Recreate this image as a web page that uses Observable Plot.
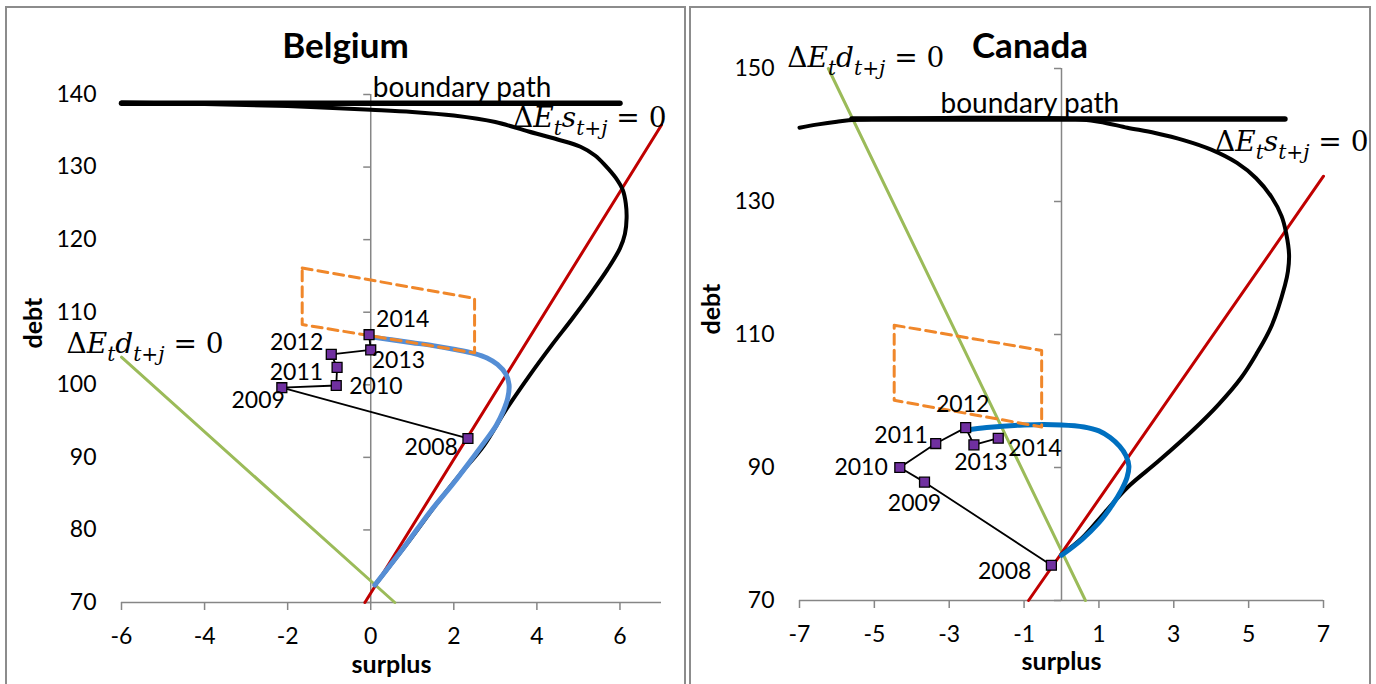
<!DOCTYPE html>
<html><head><meta charset="utf-8">
<script src="https://cdn.jsdelivr.net/npm/d3@7"></script>
<script src="https://cdn.jsdelivr.net/npm/@observablehq/plot@0.6"></script>
<style>
html,body{margin:0;padding:0;background:#fff;width:1376px;height:684px;overflow:hidden;}
.frame{position:absolute;top:6px;height:720px;border:2px solid #8c8c8c;border-bottom:none;box-sizing:border-box;}
.chart{position:absolute;top:0;width:688px;height:684px;}
.chart svg{background:transparent;max-width:none;}
.title{position:absolute;top:27px;font:bold 35px Lato, sans-serif;line-height:35px;text-align:center;color:#000;}
</style></head><body>
<div class="frame" style="left:5px;width:681px"></div>
<div class="frame" style="left:689px;width:682px"></div>
<div id="bel" class="chart" style="left:0"></div>
<div id="can" class="chart" style="left:688px"></div>
<div class="title" style="left:5px;width:681px">Belgium</div>
<div class="title" style="left:689px;width:682px">Canada</div>
<script>
// ---------- data ----------
const years = [2008, 2009, 2010, 2011, 2012, 2013, 2014];

// Belgium
const belXTicks = [-6, -4, -2, 0, 2, 4, 6];
const belYTicks = [70, 80, 90, 100, 110, 120, 130, 140];
const belSurplus = [2.34, -2.14, -0.83, -0.81, -0.95, 0.0, -0.04];
const belDebt = [92.6, 99.6, 99.9, 102.4, 104.2, 104.8, 106.9];
const belBoundaryX = [-6, 6];
const belBoundaryY = [138.8, 138.8];
const belBlackX = [-6, -4, -2, 0, 1, 2, 3, 3.8, 4.5, 5.05, 5.4, 5.65, 5.9, 6.07, 6.14, 6.16, 6.12, 6.0, 5.7, 5.3, 4.85, 4.35, 3.8, 3.25, 2.72, 2.2, 1.6, 0.9, 0.1];
const belBlackY = [138.9, 138.7, 138.4, 137.9, 137.6, 137.1, 136.2, 134.9, 133.8, 132.8, 131.6, 130.2, 128.5, 126.8, 125, 123, 120.8, 118.8, 115.9, 112.6, 109.1, 105.4, 101.1, 96.5, 91.6, 88.0, 83.7, 78.3, 72.4];
const belBlueX = [0, 0.5, 1, 1.5, 2, 2.5, 2.8, 3.05, 3.25, 3.33, 3.3, 3.2, 3.02, 2.75, 2.49, 2.0, 1.43, 0.8, 0.1];
const belBlueY = [106.6, 106.2, 105.8, 105.4, 104.9, 104.3, 103.7, 102.8, 101.5, 100, 98.2, 96.5, 94.4, 92.2, 90.2, 86.5, 82.5, 77.6, 72.4];
const belRedX = [-0.14, 7];
const belRedY = [70, 135.8];
const belGreenX = [-6, 0.58];
const belGreenY = [103.8, 70];
const belBoxX = [-1.65, 2.5, 2.5, -1.65, -1.65];
const belBoxY = [116.1, 111.9, 104.4, 108.3, 116.1];

// Canada
const canXTicks = [-7, -5, -3, -1, 1, 3, 5, 7];
const canYTicks = [70, 90, 110, 130, 150];
const canSurplus = [-0.27, -3.66, -4.32, -3.36, -2.56, -2.34, -1.69];
const canDebt = [75.3, 87.8, 90.0, 93.6, 96.0, 93.4, 94.4];
const canBoundaryX = [-5.6, 5.97];
const canBoundaryY = [142.4, 142.4];
const canBlackX = [-7, -6.5, -6, -5.5, -4, -2, 0, 1, 1.76, 2.5, 3.28, 4.0, 4.69, 5.2, 5.62, 5.88, 6.0, 6.08, 6.05, 5.97, 5.62, 5.2, 4.8, 4.2, 3.51, 2.6, 1.76, 1.15, 0.55, 0];
const canBlackY = [141.1, 141.6, 142.0, 142.3, 142.5, 142.6, 142.5, 142.0, 141.1, 140.3, 139.2, 137.8, 135.8, 133.5, 130.6, 127.8, 125.3, 122, 119.5, 117.4, 111.4, 107, 103.5, 99.5, 95.6, 91, 87, 83.2, 79.4, 76.9];
const canBlueX = [-2.55, -2, -1, 0, 0.6, 1.0, 1.3, 1.55, 1.72, 1.8, 1.75, 1.6, 1.35, 1.0, 0.55, 0];
const canBlueY = [95.6, 96.0, 96.4, 96.4, 96.1, 95.5, 94.5, 93.2, 91.8, 90.2, 88.5, 86.6, 84.3, 81.7, 79.2, 76.8];
const canRedX = [-0.88, 7];
const canRedY = [70, 133.8];
const canGreenX = [-6.23, 0.64];
const canGreenY = [150, 70];
const canBoxX = [-4.47, -0.53, -0.53, -4.47, -4.47];
const canBoxY = [111.4, 107.6, 96.1, 100.1, 111.4];

const labelD = "ΔE_t d_{t+j} = 0";
const labelS = "ΔE_t s_{t+j} = 0";
const labelBoundary = "boundary path";
const labelX = "surplus";
const labelY = "debt";

// ---------- layout / style (not data) ----------
const AX = "#868686";
const belYearPlace = {2008: ["end", -10, 9], 2009: ["end", 3, 13], 2010: ["start", 13, 1.5], 2011: ["end", -14, 5], 2012: ["end", -8, -12], 2013: ["start", 1, 10.5], 2014: ["start", 7, -15]};
const canYearPlace = {2008: ["end", -20, 6], 2009: ["middle", -10, 21], 2010: ["end", -12, 0], 2011: ["end", -8, -8], 2012: ["middle", -3, -23], 2013: ["middle", 7, 18], 2014: ["start", 10, 10]};

function pts(X, Y) { return X.map((x, i) => ({x, y: Y[i]})); }

function panel(c) {
  const y0 = c.yDomain[0];
  const ln = (X, Y, o) => Plot.line(pts(X, Y), {x: "x", y: "y", ...o});
  const obs = years.map((yr, i) => ({yr, x: c.surplus[i], y: c.debt[i]}));
  const marks = [
    Plot.ruleY([y0], {stroke: AX, strokeWidth: 1.5}),
    Plot.ruleX([0], {stroke: AX, strokeWidth: 1.5}),
    Plot.ruleX(c.xTicks, {y1: y0, y2: y0, insetBottom: -8, stroke: AX, strokeWidth: 1.5}),
    Plot.ruleY(c.yTicks, {x1: 0, x2: 0, insetLeft: -7, stroke: AX, strokeWidth: 1.5}),
    Plot.axisX(c.xTicks, {anchor: "bottom", tickSize: 0, tickPadding: 25, tickFormat: d => String(d), fontSize: 23, label: null}),
    Plot.axisY(c.yTicks, {anchor: "left", tickSize: 0, tickPadding: 25, tickFormat: d => String(d), fontSize: 23, label: null}),
    ln(c.greenX, c.greenY, {stroke: "#9BBB59", strokeWidth: 3}),
    ln(c.redX, c.redY, {stroke: "#C00000", strokeWidth: 3}),
    ln(c.boundaryX, c.boundaryY, {stroke: "#000", strokeWidth: 5.5}),
    ln(c.blackX, c.blackY, {stroke: "#000", strokeWidth: 4, curve: "catmull-rom"}),
    ln(c.blueX, c.blueY, {stroke: c.blue, strokeWidth: 5, curve: "catmull-rom"}),
    ln(c.boxX, c.boxY, {stroke: "#F0872A", strokeWidth: 3, strokeDasharray: "10,6"}),
    Plot.line(obs, {x: "x", y: "y", stroke: "#000", strokeWidth: 1.8}),
    Plot.dot(obs, {x: "x", y: "y", symbol: "square", r: 5.6, fill: "#7030A0", stroke: "#000", strokeWidth: 1.3}),
    ...obs.map(o => {
      const [ta, dx, dy] = c.place[o.yr];
      return Plot.text([o], {x: "x", y: "y", text: d => String(d.yr), textAnchor: ta, dx, dy, fontSize: 23});
    }),
    Plot.text([{x: 0, y: c.boundaryY[0]}], {x: "x", y: "y", text: () => labelBoundary, textAnchor: "start", dx: c.bdx, dy: -15, fontSize: 28}),
    Plot.text([{x: c.greenX[0], y: c.greenY[0]}], {x: "x", y: "y", text: () => labelD, textAnchor: "start", lineAnchor: "bottom", dx: c.ddx, dy: c.ddy, fontFamily: "DejaVu Serif", fontSize: 28}),
    Plot.text([{x: c.redX[1], y: c.redY[1]}], {x: "x", y: "y", text: () => labelS, textAnchor: "end", lineAnchor: "bottom", dx: c.sdx, dy: c.sdy, fontFamily: "DejaVu Serif", fontSize: 28}),
    Plot.text([labelY], {frameAnchor: "left", rotate: -90, dx: -88, fontWeight: "bold", fontSize: 25}),
    Plot.text([labelX], {frameAnchor: "bottom", dy: c.xldy, fontWeight: "bold", fontSize: 25})
  ];
  const svg = Plot.plot({
    width: 688, height: 684,
    marginLeft: c.ml, marginRight: c.mr, marginTop: c.mt, marginBottom: c.mb,
    x: {type: "linear", domain: c.xDomain},
    y: {type: "linear", domain: c.yDomain},
    style: {fontFamily: "Lato, sans-serif", fontSize: "23px", background: "transparent", overflow: "visible", color: "#000"},
    marks
  });
  mathify(svg);
  return svg;
}

function mathify(svg) {
  d3.select(svg).selectAll("text").each(function () {
    const m = /^ΔE_t ([ds])_\{t\+j\} = 0$/.exec(this.textContent);
    if (!m) return;
    const el = d3.select(this).text(null);
    const sh = 8;
    el.append("tspan").text("Δ");
    el.append("tspan").attr("font-style", "italic").text("E");
    el.append("tspan").attr("font-style", "italic").attr("font-size", "72%").attr("dy", sh).text("t");
    el.append("tspan").attr("font-style", "italic").attr("dy", -sh).text(m[1]);
    el.append("tspan").attr("font-style", "italic").attr("font-size", "72%").attr("dy", sh).text("t");
    el.append("tspan").attr("font-size", "72%").text("+");
    el.append("tspan").attr("font-style", "italic").attr("font-size", "72%").text("j");
    el.append("tspan").attr("dy", -sh).attr("xml:space", "preserve").text(" = 0");
  });
}

document.getElementById("bel").append(panel({
  xDomain: [-6, 7], yDomain: [70, 140], xTicks: belXTicks, yTicks: belYTicks,
  ml: 121, mr: 27, mt: 94, mb: 82,
  surplus: belSurplus, debt: belDebt, place: belYearPlace,
  boundaryX: belBoundaryX, boundaryY: belBoundaryY, blackX: belBlackX, blackY: belBlackY,
  blueX: belBlueX, blueY: belBlueY, blue: "#558ED5",
  redX: belRedX, redY: belRedY, greenX: belGreenX, greenY: belGreenY, boxX: belBoxX, boxY: belBoxY,
  bdx: 2, ddx: -55, ddy: -4, sdx: 5, sdy: 2, xldy: 70
}));
document.getElementById("can").append(panel({
  xDomain: [-7, 7], yDomain: [70, 150], xTicks: canXTicks, yTicks: canYTicks,
  ml: 111, mr: 53, mt: 68, mb: 84,
  surplus: canSurplus, debt: canDebt, place: canYearPlace,
  boundaryX: canBoundaryX, boundaryY: canBoundaryY, blackX: canBlackX, blackY: canBlackY,
  blueX: canBlueX, blueY: canBlueY, blue: "#0070C0",
  redX: canRedX, redY: canRedY, greenX: canGreenX, greenY: canGreenY, boxX: canBoxX, boxY: canBoxY,
  bdx: -121, ddx: -41, ddy: -2, sdx: 45, sdy: -25, xldy: 69
}));
</script>
</body></html>
